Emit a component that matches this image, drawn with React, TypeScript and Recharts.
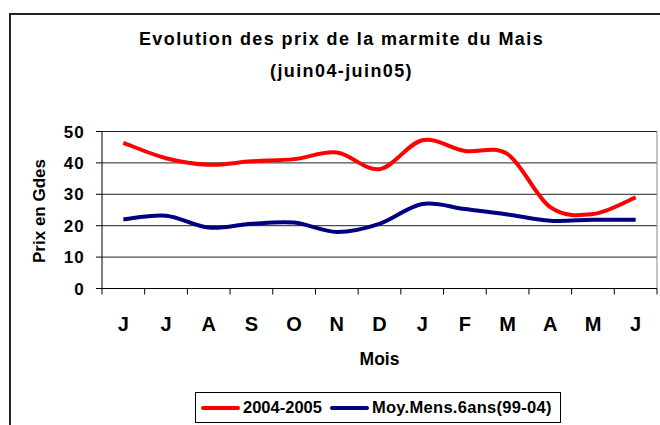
import { LineChart, Line, XAxis, YAxis, CartesianGrid, Legend } from 'recharts'

const months = ['J', 'J', 'A', 'S', 'O', 'N', 'D', 'J', 'F', 'M', 'A', 'M', 'J']
const prix2004 = [46.4, 41.5, 39.4, 40.5, 41.2, 43.3, 38.0, 47.2, 43.8, 42.8, 25.9, 23.7, 29.0]
const moyenne = [22.0, 23.2, 19.4, 20.6, 21.0, 18.0, 20.6, 26.9, 25.3, 23.6, 21.6, 21.9, 21.9]
const yTicks = [0, 10, 20, 30, 40, 50]
const seriesNames = ['2004-2005', 'Moy.Mens.6ans(99-04)']
const seriesColors = ['#FF0000', '#000080']

const font = 'Liberation Sans, Arial, sans-serif'

const CHART_W = 660
const MARGIN = { top: 131.5, right: 3, left: 0, bottom: 0 }
const Y_AXIS_W = 102
// half a category step, so points sit in the middle of each month slot
const plotW = CHART_W - MARGIN.left - MARGIN.right - Y_AXIS_W
const halfStep = plotW / (months.length * 2)

const data = months.map((m, i) => ({ month: m, prix: prix2004[i], moy: moyenne[i] }))

// smoothed line like the spreadsheet one (cardinal bezier, 1/6 of the neighbour span)
const smoothCurve = (context: any) => {
  let pts: number[][] = []
  return {
    areaStart() {},
    areaEnd() {},
    lineStart() {
      pts = []
    },
    point(x: number, y: number) {
      pts.push([+x, +y])
    },
    lineEnd() {
      if (!pts.length) return
      context.moveTo(pts[0][0], pts[0][1])
      for (let i = 0; i < pts.length - 1; i++) {
        const p0 = pts[i - 1] || pts[i]
        const p1 = pts[i]
        const p2 = pts[i + 1]
        const p3 = pts[i + 2] || p2
        context.bezierCurveTo(
          p1[0] + (p2[0] - p0[0]) / 6,
          p1[1] + (p2[1] - p0[1]) / 6,
          p2[0] - (p3[0] - p1[0]) / 6,
          p2[1] - (p3[1] - p1[1]) / 6,
          p2[0],
          p2[1]
        )
      }
    },
  }
}

// month labels at slot centers, tick marks at slot edges
const MonthTick = (props: any) => {
  const { x, y, payload, index } = props
  const isLast = index === months.length - 1
  return (
    <g>
      <line x1={x - halfStep} x2={x - halfStep} y1={y} y2={y + 6} stroke="#000" />
      {isLast && <line x1={x + halfStep} x2={x + halfStep} y1={y} y2={y + 6} stroke="#000" />}
      <text x={x} y={y + 42} textAnchor="middle" fontFamily={font} fontWeight="bold" fontSize={20} fill="#000">
        {payload.value}
      </text>
    </g>
  )
}

const renderLegend = (props: any) => {
  const { payload } = props
  return (
    <div
      style={{
        width: 366,
        height: 31,
        border: '1px solid #000',
        boxSizing: 'border-box',
        display: 'flex',
        alignItems: 'center',
        paddingLeft: 5,
        fontFamily: font,
        fontWeight: 'bold',
        fontSize: 16.5,
        color: '#000',
        background: '#fff',
      }}
    >
      {(payload || []).map((entry: any, i: number) => (
        <span key={i} style={{ display: 'flex', alignItems: 'center', marginRight: i === 0 ? 8 : 0, letterSpacing: i === 0 ? 0 : 0.3 }}>
          <span style={{ display: 'inline-block', width: 39, height: 4, borderRadius: 2, background: entry.color, marginRight: 3 }} />
          {entry.value}
        </span>
      ))}
    </div>
  )
}

export default function App() {
  return (
    <div style={{ position: 'absolute', left: 0, top: 0, width: 660, height: 425, overflow: 'hidden', background: '#fff' }}>
      {/* outer frame, cut off on the right and bottom */}
      <div style={{ position: 'absolute', left: 9, top: 13, width: 700, height: 500, border: '2px solid #222' }} />
      <div
        style={{
          position: 'absolute',
          left: 0,
          top: 23,
          width: 683,
          textAlign: 'center',
          fontFamily: font,
          fontWeight: 'bold',
          fontSize: 18,
          letterSpacing: 1.4,
          lineHeight: '32px',
          color: '#000',
        }}
      >
        Evolution des prix de la marmite du Mais
        <br />
        (juin04-juin05)
      </div>
      <div style={{ position: 'absolute', left: 0, top: 0 }}>
        <LineChart width={CHART_W} height={425} data={data} margin={MARGIN}>
          <CartesianGrid vertical={false} stroke="#222" />
          <CartesianGrid
            horizontal={false}
            stroke="#888"
            verticalCoordinatesGenerator={({ offset }: any) => [offset.left + offset.width]}
          />
          <XAxis
            dataKey="month"
            interval={0}
            padding={{ left: halfStep, right: halfStep }}
            tickLine={false}
            tickSize={0}
            tickMargin={0}
            height={136.5}
            axisLine={{ stroke: '#000' }}
            tick={<MonthTick />}
            label={{ value: 'Mois', position: 'insideTop', offset: 64, fontFamily: font, fontWeight: 'bold', fontSize: 17.5, fill: '#000' }}
          />
          <YAxis
            domain={[0, 50]}
            ticks={yTicks}
            width={Y_AXIS_W}
            tickSize={6}
            tickMargin={11}
            axisLine={{ stroke: '#000' }}
            tickLine={{ stroke: '#000' }}
            tick={{ fontFamily: font, fontWeight: 'bold', fontSize: 17, fill: '#000', letterSpacing: 1.2 }}
            label={(props: any) => {
              const vb = props.viewBox
              const cx = vb.x + 45
              const cy = vb.y + vb.height / 2 + 1
              return (
                <text
                  x={cx}
                  y={cy}
                  transform={`rotate(-90 ${cx} ${cy})`}
                  textAnchor="middle"
                  fontFamily={font}
                  fontWeight="bold"
                  fontSize={17}
                  fill="#000"
                >
                  Prix en Gdes
                </text>
              )
            }}
          />
          <Line
            type={smoothCurve as any}
            dataKey="prix"
            name={seriesNames[0]}
            stroke={seriesColors[0]}
            strokeWidth={4}
            dot={false}
            isAnimationActive={false}
          />
          <Line
            type={smoothCurve as any}
            dataKey="moy"
            name={seriesNames[1]}
            stroke={seriesColors[1]}
            strokeWidth={4}
            dot={false}
            isAnimationActive={false}
          />
          <Legend
            layout="horizontal"
            verticalAlign="middle"
            align="center"
            content={renderLegend}
            wrapperStyle={{ left: 195, top: 392, width: 366, height: 31 }}
          />
        </LineChart>
      </div>
    </div>
  )
}
